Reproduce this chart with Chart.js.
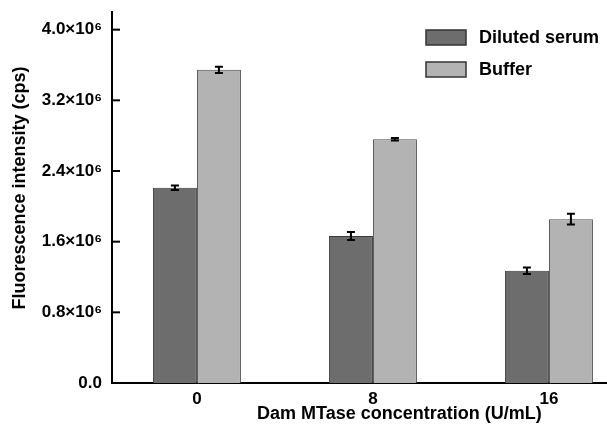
<!DOCTYPE html>
<html>
<head>
<meta charset="utf-8">
<script src="https://cdn.jsdelivr.net/npm/chart.js@4.4.1/dist/chart.umd.min.js"></script>
<style>
  html, body { margin: 0; padding: 0; background: #fff; }
  #wrap { width: 607px; height: 425px; }
</style>
</head>
<body>
<div id="wrap"><canvas id="chart"></canvas></div>
<script>
// data
const concentrations = ['0', '8', '16'];
const serumValues = [2.21e6, 1.665e6, 1.27e6];
const serumErrors = [0.025e6, 0.045e6, 0.037e6];
const bufferValues = [3.545e6, 2.76e6, 1.855e6];
const bufferErrors = [0.035e6, 0.015e6, 0.06e6];
const yTicks = [0, 0.8e6, 1.6e6, 2.4e6, 3.2e6, 4.0e6];
const yTickLabels = ['0.0', '0.8×10⁶', '1.6×10⁶', '2.4×10⁶', '3.2×10⁶', '4.0×10⁶'];
const xTicks = [0, 8, 16];

const FONT = "'Liberation Sans', Arial, sans-serif";

// error bars, inward y ticks, legend and axis titles
const extras = {
    id: 'extras',
    afterDatasetsDraw(chart) {
        const ctx = chart.ctx;
        const y = chart.scales.y;
        const errs = [serumErrors, bufferErrors];
        ctx.save();
        ctx.strokeStyle = '#000';
        ctx.lineWidth = 2;
        chart.data.datasets.forEach((ds, i) => {
            chart.getDatasetMeta(i).data.forEach((bar, j) => {
                const v = ds.data[j];
                const top = y.getPixelForValue(v + errs[i][j]);
                const bot = y.getPixelForValue(v - errs[i][j]);
                ctx.beginPath();
                ctx.moveTo(bar.x, top); ctx.lineTo(bar.x, bot);
                ctx.moveTo(bar.x - 4, top); ctx.lineTo(bar.x + 4, top);
                ctx.moveTo(bar.x - 4, bot); ctx.lineTo(bar.x + 4, bot);
                ctx.stroke();
            });
        });
        ctx.restore();
    },
    afterDraw(chart) {
        const ctx = chart.ctx;
        const { left } = chart.chartArea;
        const x = chart.scales.x;
        const y = chart.scales.y;
        ctx.save();
        // y ticks pointing inside
        ctx.strokeStyle = '#000';
        ctx.lineWidth = 2;
        yTicks.slice(1).forEach(v => {
            const py = y.getPixelForValue(v);
            ctx.beginPath();
            ctx.moveTo(left, py); ctx.lineTo(left + 8, py);
            ctx.stroke();
        });

        // legend
        ctx.font = 'bold 18px ' + FONT;
        ctx.textBaseline = 'middle';
        ctx.textAlign = 'left';
        chart.data.datasets.forEach((ds, i) => {
            const by = 30 + i * 32;
            ctx.fillStyle = ds.backgroundColor;
            ctx.fillRect(426, by, 40, 15);
            ctx.strokeStyle = '#333';
            ctx.lineWidth = 1.5;
            ctx.strokeRect(426, by, 40, 15);
            ctx.fillStyle = '#000';
            ctx.fillText(ds.label, 479, by + 8);
        });

        // axis titles
        ctx.fillStyle = '#000';
        ctx.textAlign = 'center';
        ctx.font = 'bold 18px ' + FONT;
        ctx.fillText('Dam MTase concentration (U/mL)', x.getPixelForValue(9.2), 414);
        ctx.translate(20, 188);
        ctx.rotate(-Math.PI / 2);
        ctx.fillText('Fluorescence intensity (cps)', 0, 0);
        ctx.restore();
    }
};

new Chart(document.getElementById('chart'), {
    type: 'bar',
    data: {
        labels: concentrations,
        datasets: [
            {
                label: 'Diluted serum',
                data: serumValues,
                backgroundColor: '#6d6d6d',
                borderColor: '#3a3a3a',
                borderWidth: 1
            },
            {
                label: 'Buffer',
                data: bufferValues,
                backgroundColor: '#b3b3b3',
                borderColor: '#4a4a4a',
                borderWidth: 1
            }
        ]
    },
    options: {
        responsive: true,
        maintainAspectRatio: false,
        animation: false,
        categoryPercentage: 0.5,
        barPercentage: 1,
        layout: { padding: { top: 12, right: 0, left: 0, bottom: 0 } },
        scales: {
            x: {
                type: 'linear',
                offset: false,
                min: -3.86,
                max: 18.64,
                grid: { display: false, drawTicks: false, offset: false },
                border: { display: true, color: '#000', width: 2 },
                afterBuildTicks: (scale) => { scale.ticks = xTicks.map(v => ({ value: v })); },
                afterFit: (scale) => { scale.height = 42; scale.paddingLeft = 0; scale.paddingRight = 0; },
                ticks: {
                    color: '#000',
                    padding: 6,
                    maxRotation: 0,
                    font: { family: FONT, size: 17, weight: 'bold' },
                    callback: (v) => String(v)
                }
            },
            y: {
                min: 0,
                max: 4.2e6,
                grid: { display: false, drawTicks: false },
                border: { display: true, color: '#000', width: 2 },
                afterBuildTicks: (scale) => { scale.ticks = yTicks.map(v => ({ value: v })); },
                afterFit: (scale) => { scale.width = 112; scale.paddingTop = 0; scale.paddingBottom = 0; },
                ticks: {
                    color: '#000',
                    padding: 10,
                    font: { family: FONT, size: 17, weight: 'bold' },
                    callback: (v, i) => yTickLabels[i]
                }
            }
        },
        plugins: {
            legend: { display: false },
            tooltip: { enabled: false }
        }
    },
    plugins: [extras]
});
</script>
</body>
</html>
